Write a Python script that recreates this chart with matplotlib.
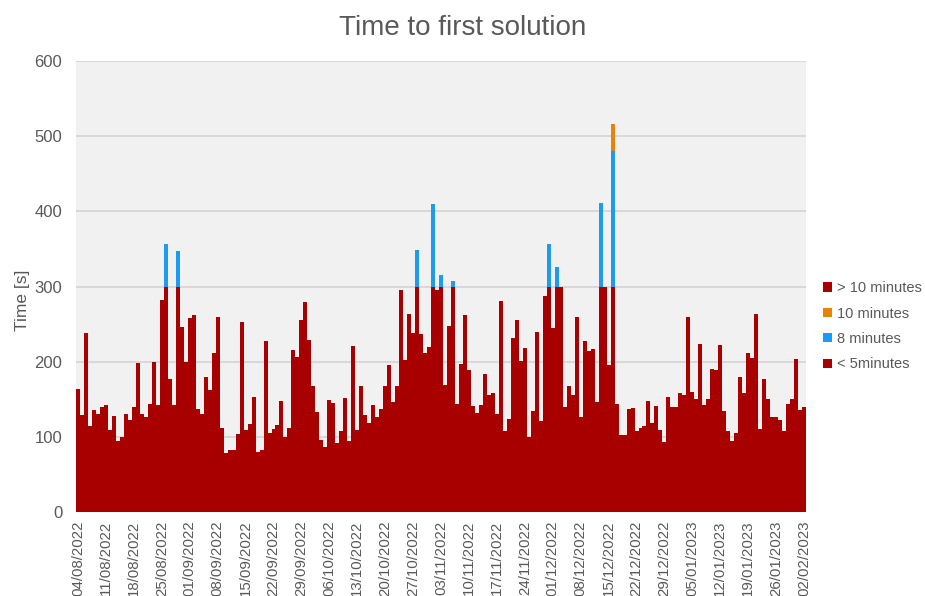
import numpy as np
import pandas as pd
import matplotlib
matplotlib.use("Agg")
import matplotlib.pyplot as plt

plt.rcParams['font.family'] = ['Liberation Sans', 'DejaVu Sans']

# one bar per day, 04/08/2022 .. 02/02/2023
days = pd.date_range("2022-08-04", "2023-02-02", freq="D")

# part of each day's time below 5 minutes (s)
under_5 = [
    164, 129, 238, 115, 136, 131, 140, 143, 109, 128, 95, 100, 130, 123, 140, 198,
    130, 127, 144, 200, 143, 282, 300, 177, 142, 300, 246, 199, 258, 262, 137, 130,
    180, 162, 212, 259, 112, 78, 83, 83, 104, 253, 109, 117, 153, 80, 83, 227,
    105, 111, 116, 148, 100, 112, 216, 206, 256, 279, 229, 167, 133, 96, 87, 149,
    145, 92, 108, 152, 94, 221, 109, 168, 129, 118, 143, 126, 137, 167, 196, 147,
    167, 295, 202, 264, 238, 300, 237, 211, 220, 300, 295, 300, 169, 248, 300, 144,
    197, 262, 189, 141, 132, 142, 183, 156, 158, 131, 281, 108, 124, 231, 256, 201,
    218, 100, 134, 239, 121, 287, 300, 245, 300, 300, 140, 167, 156, 260, 127, 228,
    214, 217, 147, 300, 300, 196, 300, 144, 103, 103, 137, 138, 108, 112, 114, 148,
    119, 141, 109, 93, 153, 140, 140, 159, 156, 259, 160, 150, 224, 143, 151, 190,
    189, 222, 134, 108, 95, 105, 180, 159, 212, 205, 264, 110, 177, 150, 126, 126,
    122, 108, 144, 151, 204, 136, 140,
]

# extra seconds in the 5-8 minute band, by date
eight_min = {
    "2022-08-26": 57, "2022-08-29": 47, "2022-10-28": 48, "2022-11-01": 110,
    "2022-11-03": 16, "2022-11-06": 7, "2022-11-30": 57, "2022-12-02": 26,
    "2022-12-13": 111, "2022-12-16": 180,
}
# extra seconds in the 8-10 minute band
ten_min = {"2022-12-16": 36}
over_10 = {}

tick_labels = [
    "04/08/2022", "11/08/2022", "18/08/2022", "25/08/2022", "01/09/2022",
    "08/09/2022", "15/09/2022", "22/09/2022", "29/09/2022", "06/10/2022",
    "13/10/2022", "20/10/2022", "27/10/2022", "03/11/2022", "10/11/2022",
    "17/11/2022", "24/11/2022", "01/12/2022", "08/12/2022", "15/12/2022",
    "22/12/2022", "29/12/2022", "05/01/2023", "12/01/2023", "19/01/2023",
    "26/01/2023", "02/02/2023",
]

RED = "#A80000"
BLUE = "#1E9BF0"
ORANGE = "#E8820C"
GREY_TXT = "#595959"


def by_day(d):
    s = pd.Series(0.0, index=days)
    for k, v in d.items():
        s[pd.Timestamp(k)] = v
    return s.values


x = np.arange(len(days))
v5 = np.array(under_5, dtype=float)
v8 = by_day(eight_min)
v10 = by_day(ten_min)
v11 = by_day(over_10)

fig = plt.figure(figsize=(9.25, 5.96), dpi=100)
ax = fig.add_axes([0.0822, 0.1409, 0.7892, 0.7567])
ax.set_facecolor("#F1F1F1")

b1 = ax.bar(x, v5, width=1.0, color=RED, linewidth=0, label="< 5minutes")
b2 = ax.bar(x, v8, width=1.0, bottom=v5, color=BLUE, linewidth=0, label="8 minutes")
b3 = ax.bar(x, v10, width=1.0, bottom=v5 + v8, color=ORANGE, linewidth=0, label="10 minutes")
b4 = ax.bar(x, v11, width=1.0, bottom=v5 + v8 + v10, color=RED, linewidth=0, label="> 10 minutes")

ax.set_xlim(-0.5, len(days) - 0.5)
ax.set_ylim(0, 600)
ax.set_yticks(np.arange(0, 601, 100))
ax.yaxis.grid(True, color="#D6D6D6", linewidth=1.3)
ax.set_axisbelow(True)
for s in ax.spines.values():
    s.set_visible(False)

tick_pos = [days.get_loc(pd.to_datetime(t, format="%d/%m/%Y")) for t in tick_labels]
ax.set_xticks(tick_pos)
ax.set_xticklabels(tick_labels, rotation=90, fontsize=10.8, color=GREY_TXT)
ax.tick_params(axis="both", length=0)
ax.tick_params(axis="x", pad=6)
ax.tick_params(axis="y", labelsize=12, labelcolor=GREY_TXT, pad=10)

ax.set_ylabel("Time [s]", fontsize=12.5, color=GREY_TXT)
ax.yaxis.set_label_coords(-0.063, 0.47)
fig.suptitle("Time to first solution", fontsize=20, color=GREY_TXT, x=0.5, y=1 - 28 / 596, va="center")

leg = ax.legend(handles=[b4, b3, b2, b1], loc="center left", bbox_to_anchor=(1.005, 0.412),
                frameon=False, fontsize=10.5, handlelength=0.6, handleheight=0.6,
                handletextpad=0.4, labelspacing=0.78, labelcolor=GREY_TXT)

fig.savefig("out.png", dpi=100)
